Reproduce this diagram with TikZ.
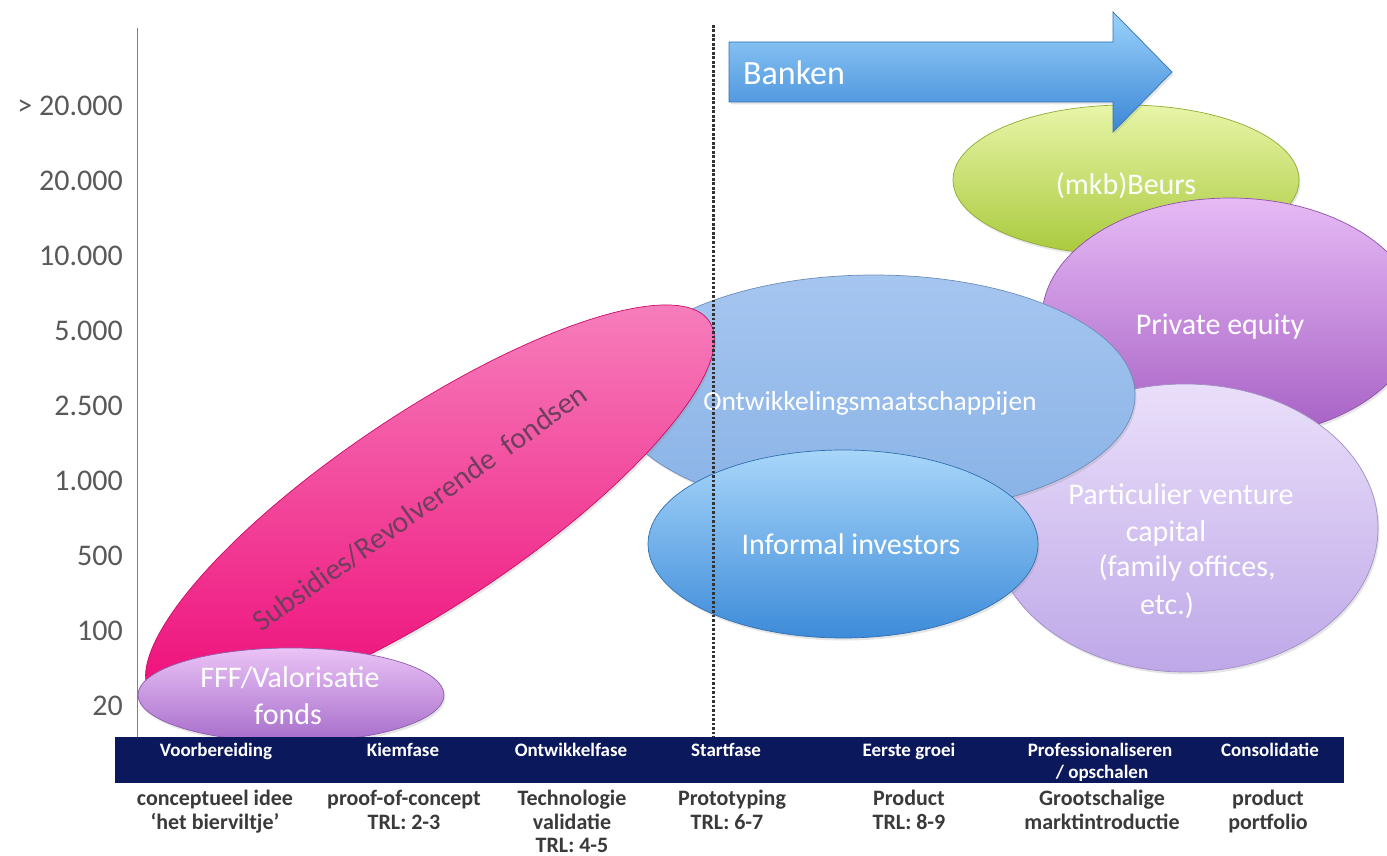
\documentclass[tikz,border=0pt]{standalone}
\usepackage{fontspec}
\setmainfont{Carlito}
\usetikzlibrary{shapes.geometric,shadows}
\definecolor{beursTop}{HTML}{E8F5A8}
\definecolor{beursBot}{HTML}{A9C93C}
\definecolor{peTop}{HTML}{E6BAF5}
\definecolor{peBot}{HTML}{A65FC4}
\definecolor{pvcTop}{HTML}{EADFFA}
\definecolor{pvcBot}{HTML}{BEA8E8}
\definecolor{ontTop}{HTML}{A6C6F0}
\definecolor{ontBot}{HTML}{88B2E6}
\definecolor{infTop}{HTML}{A8D6FA}
\definecolor{infBot}{HTML}{3D8BD9}
\definecolor{pinkTop}{HTML}{F785C0}
\definecolor{pinkBot}{HTML}{EE0F7A}
\definecolor{fffTop}{HTML}{EAC3F6}
\definecolor{fffBot}{HTML}{A76DCB}
\definecolor{arrTop}{HTML}{9BD2FB}
\definecolor{arrBot}{HTML}{3B87D6}
\definecolor{barblue}{HTML}{0C185C}
\definecolor{axgray}{HTML}{595959}
\definecolor{txtdark}{HTML}{3A3A3A}
\definecolor{pinktxt}{HTML}{6E3F5E}
\begin{document}
\begin{tikzpicture}[x=1pt,y=-1pt,
  blob/.style={ellipse, inner sep=0pt, line width=0.7pt,
    drop shadow={opacity=0.2, shadow xshift=1.5pt, shadow yshift=-2.5pt}},
  ylab/.style={anchor=base east, inner sep=0pt, text=axgray, font=\fontsize{30}{30}\selectfont},
  inlbl/.style={anchor=base, inner sep=0pt, text=white, font=\fontsize{30}{36}\selectfont},
  barlbl/.style={anchor=base, inner sep=0pt, text=white, font=\fontsize{19}{22}\selectfont\bfseries},
  sublbl/.style={anchor=base, inner sep=0pt, text=txtdark, font=\fontsize{22}{25}\selectfont\bfseries},
  dotline/.style={draw=black!80, line width=3pt, dash pattern=on 2.6pt off 1.9pt},
  axisline/.style={draw=black!50, line width=1pt}]
\clip (0,0) rectangle (1387,856);
\fill[white] (0,0) rectangle (1387,856);

% axis
\coordinate (atop) at (137,28);
\coordinate (abot) at (137,737);
\draw[axisline] (atop) -- (abot);
\foreach \t/\y [count=\i] in {{> 20.000}/115.5, 20.000/190.5, 10.000/265.5, 5.000/340.5, 2.500/415.5, 1.000/490.5, 500/565.5, 100/640.5, 20/715.5}
  \node[ylab] (yl\i) at (123,\y) {\t};

% ellipses
\node[blob, minimum width=346pt, minimum height=150pt, top color=beursTop, bottom color=beursBot, draw=beursBot!85!black] (beurs) at (1126,180) {};
\node[blob, minimum width=376pt, minimum height=240pt, top color=peTop, bottom color=peBot, draw=peBot!85!black] (pe) at (1230,318) {};
\node[blob, minimum width=386pt, minimum height=288pt, top color=pvcTop, bottom color=pvcBot, draw=pvcBot!85!black] (pvc) at (1185,528) {};
\node[blob, minimum width=522pt, minimum height=240pt, top color=ontTop, bottom color=ontBot, draw=ontBot!80!black] (ont) at (874,395) {};
\node[blob, minimum width=672pt, minimum height=192pt, rotate=33.75, top color=pinkTop, bottom color=pinkBot, draw=pinkBot!85!black] (pink) at (430,508) {};
\node[blob, minimum width=390pt, minimum height=188pt, top color=infTop, bottom color=infBot, draw=infBot!80!black] (inf) at (843,544) {};
\node[blob, minimum width=306pt, minimum height=94pt, top color=fffTop, bottom color=fffBot, draw=fffBot!85!black] (fff) at (291,695) {};

% banken arrow
\draw[top color=arrTop, bottom color=arrBot, draw=arrBot!85!black, line width=0.7pt,
  drop shadow={opacity=0.2, shadow xshift=1.5pt, shadow yshift=-2.5pt}]
  (729,42) -- (1113,42) -- (1113,12) -- (1172,72) -- (1113,132) -- (1113,102) -- (729,102) -- cycle;
\node[anchor=base west, inner sep=0pt, text=white, font=\fontsize{34}{34}\selectfont] (banken) at (743,85) {Banken};

% labels in ellipses
\node[inlbl] (tbeurs) at (1126,194) {(mkb)Beurs};
\node[inlbl] (tpe) at (1220,334) {Private equity};
\node[inlbl, font=\fontsize{27.5}{33}\selectfont] (tont) at (870,410) {Ontwikkelingsmaatschappijen};
\node[inlbl] (tinf) at (851,554) {Informal investors};
\node[inlbl] (tpvc1) at (1181,504) {Particulier venture};
\node[inlbl] (tpvc2) at (1166,541) {capital};
\node[inlbl] (tpvc3) at (1187,576) {(family offices,};
\node[inlbl] (tpvc4) at (1167,614) {etc.)};
\node[inlbl] (tfff1) at (290,687) {FFF/Valorisatie};
\node[inlbl] (tfff2) at (288,724) {fonds};
\node[inner sep=0pt, text=pinktxt, rotate=35.5, font=\fontsize{30}{30}\selectfont] (tpink) at (420,508) {Subsidies/Revolverende\ \ fondsen};

% dotted divider
\coordinate (dtop) at (713,25);
\coordinate (dbot) at (713,737);
\draw[dotline] (dtop) -- (dbot);

% phase bar
\node[fill=barblue, minimum width=1229pt, minimum height=46pt, inner sep=0pt, anchor=north west] (bar) at (115,737) {};
\node[barlbl] (p1) at (216,756) {Voorbereiding};
\node[barlbl] (p2) at (403,756) {Kiemfase};
\node[barlbl] (p3) at (571,756) {Ontwikkelfase};
\node[barlbl] (p4) at (726,756) {Startfase};
\node[barlbl] (p5) at (909,756) {Eerste groei};
\node[barlbl] (p6) at (1100,756) {Professionaliseren};
\node[barlbl] (p6b) at (1102,778) {/ opschalen};
\node[barlbl] (p7) at (1270,756) {Consolidatie};

% descriptions
\node[sublbl] (d1a) at (215,805) {conceptueel idee};
\node[sublbl] (d1b) at (215,829) {‘het bierviltje’};
\node[sublbl] (d2a) at (404,805) {proof-of-concept};
\node[sublbl] (d2b) at (404,829) {TRL: 2-3};
\node[sublbl] (d3a) at (572,805) {Technologie};
\node[sublbl] (d3b) at (572,829) {validatie};
\node[sublbl] (d3c) at (572,852) {TRL: 4-5};
\node[sublbl] (d4a) at (732,805) {Prototyping};
\node[sublbl] (d4b) at (727,829) {TRL: 6-7};
\node[sublbl] (d5a) at (909,805) {Product};
\node[sublbl] (d5b) at (909,829) {TRL: 8-9};
\node[sublbl] (d6a) at (1102,805) {Grootschalige};
\node[sublbl] (d6b) at (1102,829) {marktintroductie};
\node[sublbl] (d7a) at (1268,805) {product};
\node[sublbl] (d7b) at (1268,829) {portfolio};
\end{tikzpicture}
\end{document}
